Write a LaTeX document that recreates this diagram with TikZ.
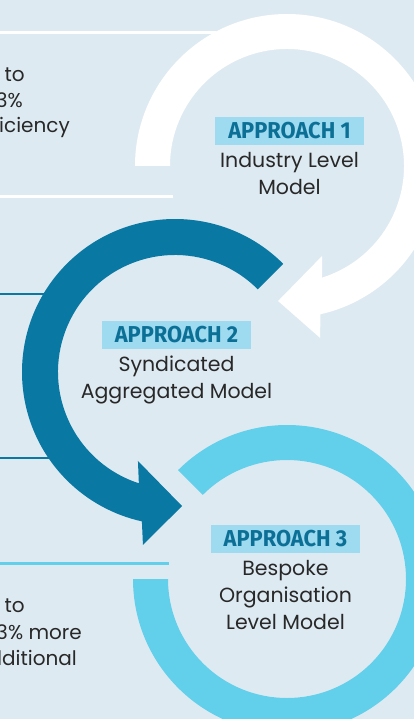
\documentclass[tikz,border=0pt]{standalone}
\usepackage{fontspec}
\setmainfont{Poppins}
\newfontfamily\tagfont[FakeStretch=0.95]{Fira Sans}
\usetikzlibrary{calc,positioning}
\definecolor{bg}{RGB}{222,234,242}
\definecolor{deep}{RGB}{9,120,162}
\definecolor{sky}{RGB}{98,207,235}
\definecolor{tagbg}{RGB}{158,218,240}
\definecolor{tagfg}{RGB}{12,112,150}
\definecolor{ink}{RGB}{40,40,40}
\tikzset{
 tag/.style={fill=tagbg,text=tagfg,minimum width=149pt,minimum height=28pt,inner sep=0pt,font=\tagfont\bfseries\fontsize{23}{23}\selectfont},
 body/.style={text=ink,inner sep=0pt,align=center,font=\fontsize{20.5}{27}\selectfont},
 side/.style={text=ink,inner sep=0pt,anchor=base east,font=\fontsize{20}{27}\selectfont}
}

\begin{document}
\begin{tikzpicture}[x=1pt,y=1pt]
 \useasboundingbox (0,0) rectangle (414,-719);
 \clip (0,0) rectangle (414,-719);
 \fill[bg] (0,0) rectangle (414,-719);
 \coordinate (c1) at (287,-166); \coordinate (c2) at (175,-372); \coordinate (c3) at (287,-579);
 % rules on the left
 \draw[white,line width=3pt] (0,-33)--(216,-33); \draw[white,line width=3pt] (0,-197)--(173,-197);
 \draw[deep,line width=2.5pt] (0,-294)--(50,-294); \draw[deep,line width=2.5pt] (0,-458)--(50,-458);
 \draw[sky,line width=3pt] (0,-563)--(169,-563);
 % ring 3, open at the upper left
 \fill[sky] ($(c3)+(180:154)$) arc (180:495:154) -- ($(c3)+(135:119)$) arc (135:-180:119) -- cycle;
 % ring 2 with its head
 \fill[deep] ($(c2)+(45:153)$) arc (45:257.5:153) -- ($(c2)+(259.5:175.9)$) -- ($(c2)+(273:134.2)$) -- ($(c2)+(247.4:96.4)$) -- ($(c2)+(252:117)$) arc (252:45:117) -- cycle;
 % ring 1 with its head
 \fill[white] ($(c1)+(180:152)$) arc (180:-77.3:152) -- ($(c1)+(-79.1:175.1)$) -- ($(c1)+(-93.8:135.3)$) -- ($(c1)+(-68.7:96.6)$) -- ($(c1)+(-72.6:117)$) arc (-72.6:180:117) -- cycle;
 % labels
 \node[tag] (app1) at (289.5,-131) {APPROACH 1};
 \node[body,below=7pt of app1] (app1txt) {Industry Level\\Model};
 \node[tag] (app2) at (176.5,-334.5) {APPROACH 2};
 \node[body,below=7pt of app2] (app2txt) {Syndicated\\Aggregated Model};
 \node[tag] (app3) at (285.5,-539) {APPROACH 3};
 \node[body,below=7pt of app3] (app3txt) {Bespoke\\Organisation\\Level Model};
 % text running off the left edge
 \node[side] (top1) at (25,-82) {Up to};
 \node[side] (top2) at (23,-108) {33\%};
 \node[side] (top3) at (70,-133) {efficiency};
 \node[side] (bot1) at (25,-612) {Up to};
 \node[side] (bot2) at (82,-639) {33\% more};
 \node[side] (bot3) at (77,-665) {additional};
\end{tikzpicture}
\end{document}
